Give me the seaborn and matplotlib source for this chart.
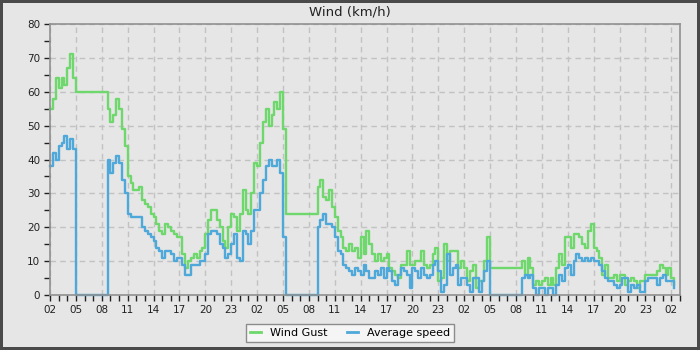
import numpy as np
import pandas as pd
import seaborn as sns
import matplotlib.pyplot as plt
from matplotlib.lines import Line2D
from matplotlib.ticker import MultipleLocator

# samples every 20 minutes, starting 02:00 on day one (three values per hour)
step_h = 1 / 3

wind_gust = [
    55, 58, 64,  61, 64, 62,  67, 71, 64,  60, 60, 60,  60, 60, 60,  60, 60, 60,
    60, 60, 55,  51, 53, 58,  55, 49, 44,  35, 33, 31,  31, 32, 28,  27, 26, 24,
    23, 21, 19,  18, 21, 20,  19, 18, 17,  17, 12, 8,   10, 11, 12,  11, 13, 14,
    18, 22, 25,  25, 22, 20,  16, 14, 20,  24, 23, 19,  24, 31, 25,  24, 30, 39,
    38, 45, 51,  55, 50, 53,  57, 55, 60,  49, 24, 24,  24, 24, 24,  24, 24, 24,
    24, 24, 24,  32, 34, 29,  28, 31, 26,  23, 19, 17,  14, 13, 15,  13, 14, 11,
    17, 12, 19,  15, 12, 10,  12, 10, 11,  12, 8, 7,    6, 5, 9,     9, 13, 9,
    9, 10, 10,   13, 9, 8,    9, 12, 14,   4, 5, 15,    10, 13, 13,  13, 8, 10,
    8, 4, 7,     9, 2, 4,     4, 10, 17,   8, 8, 8,     8, 8, 8,     8, 8, 8,
    8, 8, 10,    6, 11, 8,    3, 4, 3,     4, 5, 3,     5, 3, 8,     12, 9, 17,
    17, 14, 18,  18, 17, 15,  14, 19, 21,  14, 13, 11,  6, 9, 5,     5, 6, 4,
    6, 6, 3,     4, 5, 4,     2, 4, 4,     6, 6, 6,     6, 7, 9,     8, 6, 8,
    5, 3,
]

avg_speed = [
    38, 42, 40,  44, 45, 47,  43, 46, 43,  0, 0, 0,     0, 0, 0,     0, 0, 0,
    0, 0, 40,    36, 39, 41,  39, 34, 30,  24, 23, 23,  23, 23, 20,  19, 18, 17,
    16, 14, 13,  11, 13, 13,  12, 10, 11,  11, 9, 6,    6, 9, 9,     9, 10, 10,
    12, 18, 19,  19, 18, 15,  14, 11, 12,  15, 18, 11,  10, 19, 18,  15, 19, 25,
    25, 30, 34,  38, 40, 38,  38, 40, 36,  17, 0, 0,    0, 0, 0,     0, 0, 0,
    0, 0, 0,     20, 22, 24,  21, 21, 20,  17, 13, 12,  9, 8, 7,     6, 8, 7,
    6, 9, 7,     5, 5, 7,     6, 8, 5,     8, 7, 4,     3, 6, 8,     7, 6, 2,
    8, 7, 5,     8, 6, 5,     6, 9, 10,    7, 1, 3,     12, 6, 8,    9, 3, 5,
    5, 3, 1,     5, 5, 1,     4, 7, 10,    0, 0, 0,     0, 0, 0,     0, 0, 0,
    0, 0, 5,     6, 5, 6,     2, 0, 2,     2, 0, 2,     2, 0, 3,     6, 4, 8,
    9, 6, 10,    12, 11, 10,  11, 10, 11,  10, 10, 9,   7, 5, 4,     4, 3, 2,
    3, 5, 5,     1, 3, 2,     3, 1, 1,     4, 5, 5,     5, 3, 5,     6, 4, 4,
    4, 2,
]

tick_labels = ["02", "05", "08", "11", "14", "17", "20", "23"] * 3 + ["02"]

series_names = ["Wind Gust", "Average speed"]
series_colors = ["#6fd86c", "#4ea8da"]

bg = "#e6e6e6"

hours = np.arange(len(wind_gust)) * step_h
df = pd.DataFrame({"hour": hours, "Wind Gust": wind_gust, "Average speed": avg_speed})
long = df.melt(id_vars="hour", var_name="series", value_name="kmh")

fig = plt.figure(figsize=(7, 3.5), dpi=100, facecolor=bg, edgecolor="#4a4a4a", linewidth=3)
ax = fig.add_axes([50 / 700, 55 / 350, 630 / 700, 271 / 350])
ax.set_facecolor(bg)

sns.lineplot(data=long, x="hour", y="kmh", hue="series", hue_order=series_names,
             palette=dict(zip(series_names, series_colors)), drawstyle="steps-post",
             linewidth=1.7, estimator=None, legend=False, ax=ax, clip_on=False)

ax.set_xlim(0, 73)
ax.set_ylim(0, 80)
ax.set_xticks(np.arange(0, 73, 3))
ax.set_xticklabels(tick_labels)
ax.xaxis.set_minor_locator(MultipleLocator(1))
ax.yaxis.set_major_locator(MultipleLocator(10))
ax.yaxis.set_minor_locator(MultipleLocator(5))
ax.tick_params(which="both", length=4, width=1, color="#222222", labelsize=7.5,
               labelcolor="#222222", pad=3)
ax.set_xlabel("")
ax.set_ylabel("")

ax.grid(which="major", color="#c2c2c2", linestyle=(0, (4, 3)), linewidth=1)
ax.set_axisbelow(True)
for s in ax.spines.values():
    s.set_color("#909090")
    s.set_linewidth(1.2)

# title is centred on the whole image, not on the plot area
fig.text(0.5, 1 - 12 / 350, "Wind (km/h)", ha="center", va="center",
         fontsize=9.5, color="#222222")

handles = [Line2D([], [], color=c, linewidth=2) for c in series_colors]
fig.legend(handles, series_names, loc="lower center", bbox_to_anchor=(0.5, 0.008),
           ncol=2, fontsize=8, frameon=True, fancybox=False, framealpha=1,
           facecolor="#f5f5f5", edgecolor="#8c8c8c", handlelength=1.0,
           handletextpad=0.8, columnspacing=1.8, borderpad=0.35)

fig.savefig("out.png", dpi=100, facecolor=fig.get_facecolor(), edgecolor=fig.get_edgecolor())
